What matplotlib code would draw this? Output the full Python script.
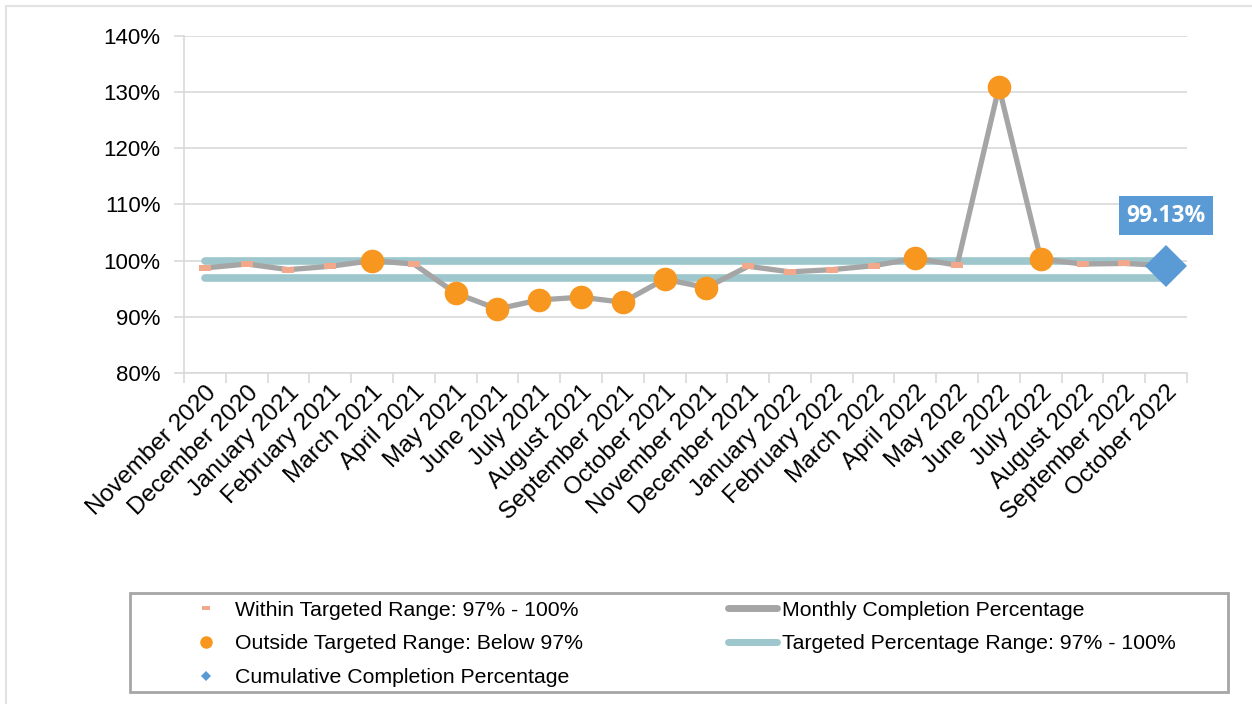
import matplotlib
matplotlib.use('Agg')
import matplotlib.pyplot as plt
from matplotlib.lines import Line2D
from matplotlib.patches import Rectangle
import numpy as np

plt.rcParams['font.family'] = ['Liberation Sans', 'DejaVu Sans']

months = ['November 2020', 'December 2020', 'January 2021', 'February 2021', 'March 2021',
          'April 2021', 'May 2021', 'June 2021', 'July 2021', 'August 2021',
          'September 2021', 'October 2021', 'November 2021', 'December 2021',
          'January 2022', 'February 2022', 'March 2022', 'April 2022', 'May 2022',
          'June 2022', 'July 2022', 'August 2022', 'September 2022', 'October 2022']
monthly = [98.7, 99.4, 98.4, 99.0, 100.0, 99.4, 94.2, 91.4, 93.0, 93.5, 92.6, 96.7,
           95.2, 99.0, 98.0, 98.4, 99.1, 100.4, 99.2, 130.9, 100.3, 99.4, 99.5, 99.13]
cumulative = 99.13
target_low = 97
target_high = 100

# months flagged orange in the source chart
outside_idx = [4, 6, 7, 8, 9, 10, 11, 12, 17, 19, 20]

x = np.arange(len(months))
vals = np.array(monthly)
inside_idx = [i for i in range(len(months)) if i not in outside_idx]

GRAY = '#A5A5A5'
TEAL = '#9DC7CC'
ORANGE = '#F7971F'
SALMON = '#F2A88A'
BLUE = '#5B9BD5'
GRID = '#D9D9D9'

fig = plt.figure(figsize=(12.52, 7.04), dpi=100)
ax = fig.add_axes([184/1252, 1-373/704, (1187-184)/1252, (373-36)/704])

# chart border
fig.patches.append(Rectangle((6/1252, -0.1), 1.2, 1-6/704+0.1, transform=fig.transFigure,
                             fill=False, edgecolor='#E3E3E3', linewidth=1.5))

ax.plot([x[0], x[-1]], [target_high, target_high], color=TEAL, lw=5.5, solid_capstyle='round', zorder=2)
ax.plot([x[0], x[-1]], [target_low, target_low], color=TEAL, lw=5.5, solid_capstyle='round', zorder=2)
ax.plot(x, vals, color=GRAY, lw=3.8, zorder=3)

dash = [(-1, -0.55), (1, -0.55), (1, 0.55), (-1, 0.55), (-1, -0.55)]
ax.plot(x[inside_idx], vals[inside_idx], ls='none', marker=dash, markersize=8,
        color=SALMON, markeredgewidth=0, zorder=4)
ax.plot(x[outside_idx], vals[outside_idx], ls='none', marker='o', markersize=17,
        color=ORANGE, markeredgewidth=0, zorder=5)
ax.plot([x[-1]], [cumulative], ls='none', marker='D', markersize=21,
        color=BLUE, markeredgewidth=0, zorder=6)

ax.annotate('%.2f%%' % cumulative, xy=(x[-1], cumulative), xytext=(0, 36),
            textcoords='offset points', ha='center', va='center',
            fontsize=16.5, fontweight='bold', color='white', family=['Open Sans', 'DejaVu Sans'],
            bbox=dict(boxstyle='square,pad=0.33', facecolor=BLUE, edgecolor='none'), zorder=7)

ax.set_xlim(-0.5, len(months) - 0.5)
ax.set_ylim(80, 140)
ax.set_yticks(np.arange(80, 141, 10))
ax.set_yticklabels(['%d%%' % v for v in range(80, 141, 10)])
ax.grid(axis='y', color=GRID, lw=1.2)
ax.set_axisbelow(True)

ax.set_xticks(x)
ax.set_xticklabels(months, rotation=45, ha='right', va='top', rotation_mode='anchor')
ax.set_xticks(np.arange(-0.5, len(months), 1), minor=True)
ax.tick_params(axis='x', which='major', length=0, pad=6, labelsize=17.5)
ax.tick_params(axis='x', which='minor', length=7, color=GRID, width=1.2)
ax.tick_params(axis='y', length=7, color=GRID, width=1.2, labelsize=16, pad=10)

for s in ['top', 'right']:
    ax.spines[s].set_visible(False)
for s in ['left', 'bottom']:
    ax.spines[s].set_color(GRID)
    ax.spines[s].set_linewidth(1.2)

# legend
fig.patches.append(Rectangle((130/1252, 1-692/704), (1228-130)/1252, (692-593)/704,
                             transform=fig.transFigure, fill=False, edgecolor='#A6A6A6', linewidth=2))

h1 = [Line2D([], [], ls='none', marker=dash, markersize=6, color=SALMON, markeredgewidth=0),
      Line2D([], [], ls='none', marker='o', markersize=9, color=ORANGE, markeredgewidth=0),
      Line2D([], [], ls='none', marker='D', markersize=5, color=BLUE, markeredgewidth=0)]
l1 = ['Within Targeted Range: 97% - 100%', 'Outside Targeted Range: Below 97%',
      'Cumulative Completion Percentage']
h2 = [Line2D([], [], color=GRAY, lw=5, solid_capstyle='round'),
      Line2D([], [], color=TEAL, lw=5, solid_capstyle='round')]
l2 = ['Monthly Completion Percentage', 'Targeted Percentage Range: 97% - 100%']

leg1 = fig.legend(h1, l1, loc='upper left', bbox_to_anchor=(187/1252, 1-592/704),
                  frameon=False, fontsize=15.3, handlelength=1.0, handletextpad=0.85,
                  labelspacing=0.7, borderaxespad=0)
leg2 = fig.legend(h2, l2, loc='upper left', bbox_to_anchor=(719/1252, 1-592/704),
                  frameon=False, fontsize=15.3, handlelength=2.35, handletextpad=0.2,
                  labelspacing=0.7, borderaxespad=0)

fig.savefig('out.png', dpi=100)
